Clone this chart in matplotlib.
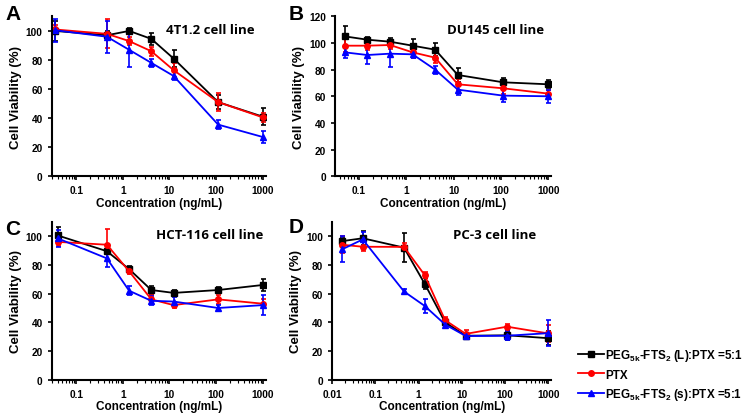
import matplotlib
matplotlib.use('Agg')
import matplotlib.pyplot as plt
from matplotlib.ticker import LogLocator, FixedLocator, NullFormatter

plt.rcParams['font.family'] = ['Liberation Sans', 'DejaVu Sans']
plt.rcParams['font.weight'] = 'bold'
plt.rcParams['mathtext.fontset'] = 'custom'
plt.rcParams['mathtext.bf'] = 'Liberation Sans:bold'
plt.rcParams['mathtext.rm'] = 'Liberation Sans:bold'

# concentrations (ng/mL)
conc_a = [0.035, 0.457, 1.37, 4.1, 12.3, 111, 1000]
conc_b = [0.0508, 0.152, 0.457, 1.37, 4.1, 12.3, 111, 1000]
conc_c = [0.04, 0.457, 1.37, 4.1, 12.3, 111, 1000]
conc_d = [0.0169, 0.0508, 0.457, 1.37, 4.1, 12.3, 111, 1000]

# panel A - 4T1.2
a_black = [100, 97, 100, 94.5, 81, 51, 41]
a_black_err = [7, 3, 2, 4, 6, 5, 6]
a_red = [101, 98, 93, 86, 73, 51, 40.5]
a_red_err = [3, 10, 3, 3, 5, 6, 3]
a_blue = [100.5, 96, 87, 78, 69, 35.5, 27]
a_blue_err = [8, 11, 12, 3, 3, 3, 4]

# panel B - DU145
b_black = [105, 102.5, 101, 98, 95, 76, 70.5, 69]
b_black_err = [8, 2, 3, 5, 5, 5, 3, 3]
b_red = [98, 98, 98.5, 93, 89, 69, 66, 62]
b_red_err = [5, 3, 3, 4, 4, 4, 4, 3]
b_blue = [93, 91, 92, 91.5, 80, 65, 60.5, 60]
b_blue_err = [4, 7, 10, 3, 3, 4, 5, 5]

# panel C - HCT-116
c_black = [100.5, 89.5, 77, 62.5, 60.5, 62.5, 66]
c_black_err = [6, 2, 2, 3, 2, 2, 4]
c_red = [96, 94, 75.5, 56, 52, 56, 53]
c_red_err = [3, 11, 2, 3, 2, 3, 3]
c_blue = [98.5, 84.5, 62, 55, 54.5, 50, 52]
c_blue_err = [6, 6, 3, 3, 3, 2, 7]

# panel D - PC-3
d_black = [96.5, 98.5, 92, 67, 40, 30.7, 31, 29]
d_black_err = [3, 5, 10, 4, 2, 2, 3, 5]
d_red = [94, 92.6, 92.5, 73, 41.5, 32, 37, 32.3]
d_red_err = [6, 3, 3, 2, 2, 3, 2, 6]
d_blue = [90.8, 97.7, 61.5, 51.5, 38.5, 30.5, 30.7, 32.5]
d_blue_err = [9, 5, 2, 5, 2, 2, 3, 9]

labels = [r'PEG$_{\mathbf{5k}}$-FTS$_{\mathbf{2}}$ (L):PTX =5:1', 'PTX',
          r'PEG$_{\mathbf{5k}}$-FTS$_{\mathbf{2}}$ (s):PTX =5:1']

panels = [
    ('A', '4T1.2 cell line', conc_a, [(a_black, a_black_err), (a_red, a_red_err), (a_blue, a_blue_err)],
     [0.069, 0.572, 0.285, 0.386], (0.03, 1150), 110, 120),
    ('B', 'DU145 cell line', conc_b, [(b_black, b_black_err), (b_red, b_red_err), (b_blue, b_blue_err)],
     [0.447, 0.572, 0.288, 0.386], (0.032, 1150), 120, 140),
    ('C', 'HCT-116 cell line', conc_c, [(c_black, c_black_err), (c_red, c_red_err), (c_blue, c_blue_err)],
     [0.069, 0.080, 0.285, 0.382], (0.03, 1150), 110, 120),
    ('D', 'PC-3 cell line', conc_d, [(d_black, d_black_err), (d_red, d_red_err), (d_blue, d_blue_err)],
     [0.443, 0.080, 0.292, 0.382], (0.01, 1170), 110, 120),
]

colors = ['black', '#ff0000', '#0000ff']
markers = ['s', 'o', '^']

fig = plt.figure(figsize=(7.5, 4.14), dpi=100)

handles = []
for letter, title, xs, series, pos, xlim, ytop, ystop in panels:
    ax = fig.add_axes(pos)
    for (ys, err), c, m in zip(series, colors, markers):
        h = ax.errorbar(xs, ys, yerr=err, color=c, marker=m, markersize=4,
                        lw=1.3, elinewidth=1.2, capsize=1.8, capthick=1.2)
        if letter == 'A':
            handles.append(h[0])
    ax.set_xscale('log')
    ax.set_xlim(*xlim)
    ax.set_ylim(0, ytop)
    ax.set_yticks(range(0, ystop, 20))
    if letter == 'D':
        major = [0.01, 0.1, 1, 10, 100, 1000]
        ax.xaxis.set_major_locator(FixedLocator(major))
        ax.set_xticklabels(['0.01', '0.1', '1', '10', '100', '1000'])
    else:
        major = [0.1, 1, 10, 100, 1000]
        ax.xaxis.set_major_locator(FixedLocator(major))
        ax.set_xticklabels(['0.1', '1', '10', '100', '1000'])
    ax.xaxis.set_minor_locator(LogLocator(base=10, subs=range(2, 10), numticks=20))
    ax.xaxis.set_minor_formatter(NullFormatter())
    for s in ['top', 'right']:
        ax.spines[s].set_visible(False)
    for s in ['left', 'bottom']:
        ax.spines[s].set_linewidth(1.5)
    ax.tick_params(axis='both', which='major', labelsize=7.3, width=1.2, length=3)
    ax.tick_params(axis='x', which='minor', width=0.8, length=2)
    ax.set_xlabel('Concentration (ng/mL)', fontsize=8.5, fontweight='bold', labelpad=1)
    ax.set_ylabel('Cell Viability (%)', fontsize=9.5, fontweight='bold', labelpad=3)
    ax.text(0.74, 0.92, title, transform=ax.transAxes, ha='center', va='center',
            fontsize=9.5, fontweight='bold', family=['Open Sans', 'DejaVu Sans'])

fig.text(0.007, 0.965, 'A', fontsize=15, fontweight='bold', va='center')
fig.text(0.385, 0.965, 'B', fontsize=15, fontweight='bold', va='center')
fig.text(0.007, 0.445, 'C', fontsize=15, fontweight='bold', va='center')
fig.text(0.385, 0.45, 'D', fontsize=15, fontweight='bold', va='center')

fig.legend(handles, labels, loc='upper left', bbox_to_anchor=(0.765, 0.17),
           frameon=False, fontsize=8.4, handlelength=2.2, handletextpad=0.1,
           labelspacing=0.45, borderaxespad=0)

fig.savefig('out.png', dpi=100)
